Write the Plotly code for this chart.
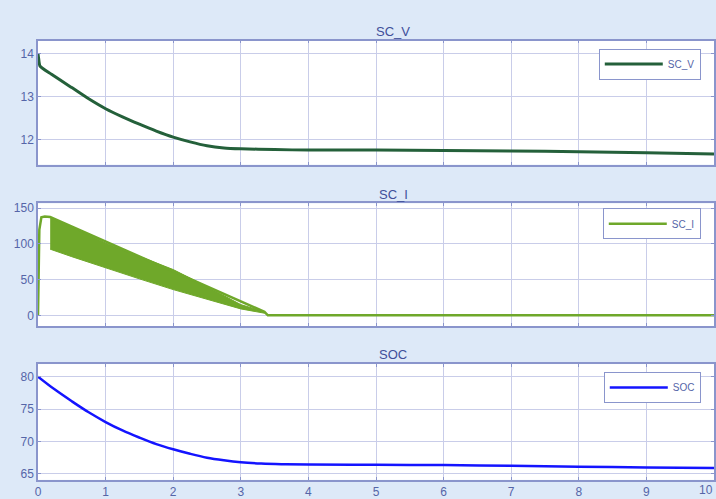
import plotly.graph_objects as go

# ---- data ----
t_v = [0.0, 0.01, 0.03, 0.2, 0.5, 0.75, 1.0, 1.25, 1.5, 1.75, 2.0, 2.25, 2.5, 2.75, 3.0, 3.5, 4.0, 5.0, 6.0, 7.0, 8.0, 9.0, 10.0]
sc_v = [14.0, 13.88, 13.71, 13.52, 13.21, 12.95, 12.72, 12.53, 12.36, 12.2, 12.06, 11.95, 11.86, 11.81, 11.79, 11.77, 11.76, 11.76, 11.75, 11.74, 11.72, 11.70, 11.67]

t_i = [0.0, 0.02, 0.05, 0.1, 0.18, 3.35, 3.4, 4.0, 6.0, 8.0, 10.0]
sc_i = [0.0, 120.0, 137.0, 138.0, 137.5, 5.0, 0.0, 0.0, 0.0, 0.0, 0.0]
t_i_up = [0.18, 0.5, 1.0, 1.5, 2.0, 2.5, 3.0, 3.35]
i_up = [137.5, 124.0, 101.0, 83.0, 64.0, 40.0, 15.0, 5.0]
t_i_lo = [0.18, 0.5, 1.0, 1.5, 2.0, 2.5, 3.0, 3.35]
i_lo = [92.5, 82.0, 66.0, 51.0, 36.0, 22.0, 9.0, 3.0]

t_s = [0.0, 0.25, 0.5, 0.75, 1.0, 1.25, 1.5, 1.75, 2.0, 2.25, 2.5, 2.75, 3.0, 3.3, 3.6, 4.0, 5.0, 6.0, 7.0, 8.0, 9.0, 10.0]
soc = [80.0, 78.0, 76.2, 74.5, 73.0, 71.7, 70.6, 69.6, 68.8, 68.1, 67.5, 67.1, 66.8, 66.6, 66.5, 66.45, 66.4, 66.35, 66.25, 66.1, 66.0, 65.9]

titles = ["SC_V", "SC_I", "SOC"]
x_ticks = [0, 1, 2, 3, 4, 5, 6, 7, 8, 9, 10]

# ---- styling ----
H = 499.0
W = 716.0
BG = "#dde9f8"
AXC = "#5565a8"
GRID = "#c9cde9"
BORDER = "#8a95cc"
C_V = "#24603a"
C_I = "#6fa82a"
C_S = "#1414ff"

def py(px):
    return 1 - px / H

domains = [(py(164), py(39)), (py(326.7), py(203)), (py(481.7), py(365))]
yranges = [(11.42, 14.3), (-15, 156.5), (64.08, 81.94)]
yticks = [[12, 13, 14], [0, 50, 100, 150], [65, 70, 75, 80]]
title_y = [30, 194, 355]
legend_top = [47, 208, 373]

fig = go.Figure()

# SC_V
fig.add_trace(go.Scatter(x=t_v, y=sc_v, mode="lines", name="SC_V",
                         line=dict(color=C_V, width=3, shape="spline", smoothing=0.6),
                         xaxis="x", yaxis="y", legend="legend"))

# SC_I band (oscillation envelope)
band_x = t_i_up + t_i_lo[::-1]
band_y = i_up + i_lo[::-1]
fig.add_trace(go.Scatter(x=band_x, y=band_y, mode="lines", fill="toself",
                         fillcolor=C_I, line=dict(color=C_I, width=1),
                         showlegend=False, hoverinfo="skip",
                         xaxis="x2", yaxis="y2"))
fig.add_trace(go.Scatter(x=t_i, y=sc_i, mode="lines", name="SC_I",
                         line=dict(color=C_I, width=2.5),
                         xaxis="x2", yaxis="y2", legend="legend2"))

# SOC
fig.add_trace(go.Scatter(x=t_s, y=soc, mode="lines", name="SOC",
                         line=dict(color=C_S, width=2.5, shape="spline"),
                         xaxis="x3", yaxis="y3", legend="legend3"))

layout = dict(
    width=716, height=499,
    paper_bgcolor=BG, plot_bgcolor="white",
    margin=dict(l=38, r=1, t=0, b=0),
    font=dict(family="Arial, Liberation Sans, sans-serif", color=AXC, size=11),
    annotations=[],
)

for k in range(3):
    sfx = "" if k == 0 else str(k + 1)
    layout["xaxis" + sfx] = dict(
        domain=[0, 1], range=[0, 10], anchor="y" + sfx,
        tickvals=x_ticks, showticklabels=(k == 2),
        showgrid=True, gridcolor=GRID, gridwidth=1,
        showline=True, linecolor=BORDER, linewidth=1.5, mirror="ticks",
        ticks="inside", ticklen=3, tickcolor=BORDER,
        zeroline=False, tickfont=dict(size=12, color=AXC),
    )
    layout["yaxis" + sfx] = dict(
        domain=list(domains[k]), range=list(yranges[k]), anchor="x" + sfx,
        tickvals=yticks[k],
        showgrid=True, gridcolor=GRID, gridwidth=1,
        showline=True, linecolor=BORDER, linewidth=1.5, mirror="ticks",
        ticks="inside", ticklen=3, tickcolor=BORDER,
        zeroline=False, tickfont=dict(size=12, color=AXC),
    )
    layout["legend" + sfx] = dict(
        x=702 / W, y=py(legend_top[k]), xanchor="right", yanchor="top",
        bgcolor="white", bordercolor=BORDER, borderwidth=1,
        font=dict(size=10, color=AXC), itemwidth=58,
    )
    layout["annotations"].append(dict(
        text=titles[k], x=376.5 / W, y=py(title_y[k]), xref="paper", yref="paper",
        showarrow=False, font=dict(size=13, color="#3f4f9a"),
        xanchor="center", yanchor="middle",
    ))

# last x tick label, kept fully inside the page
layout["annotations"].append(dict(
    text=str(x_ticks[-1]), x=x_ticks[-1], xref="x3", y=py(492), yref="paper",
    showarrow=False, font=dict(size=12, color=AXC), xanchor="right", yanchor="middle",
    xshift=1,
))

fig.update_layout(**layout)
fig.write_html("out.html")
